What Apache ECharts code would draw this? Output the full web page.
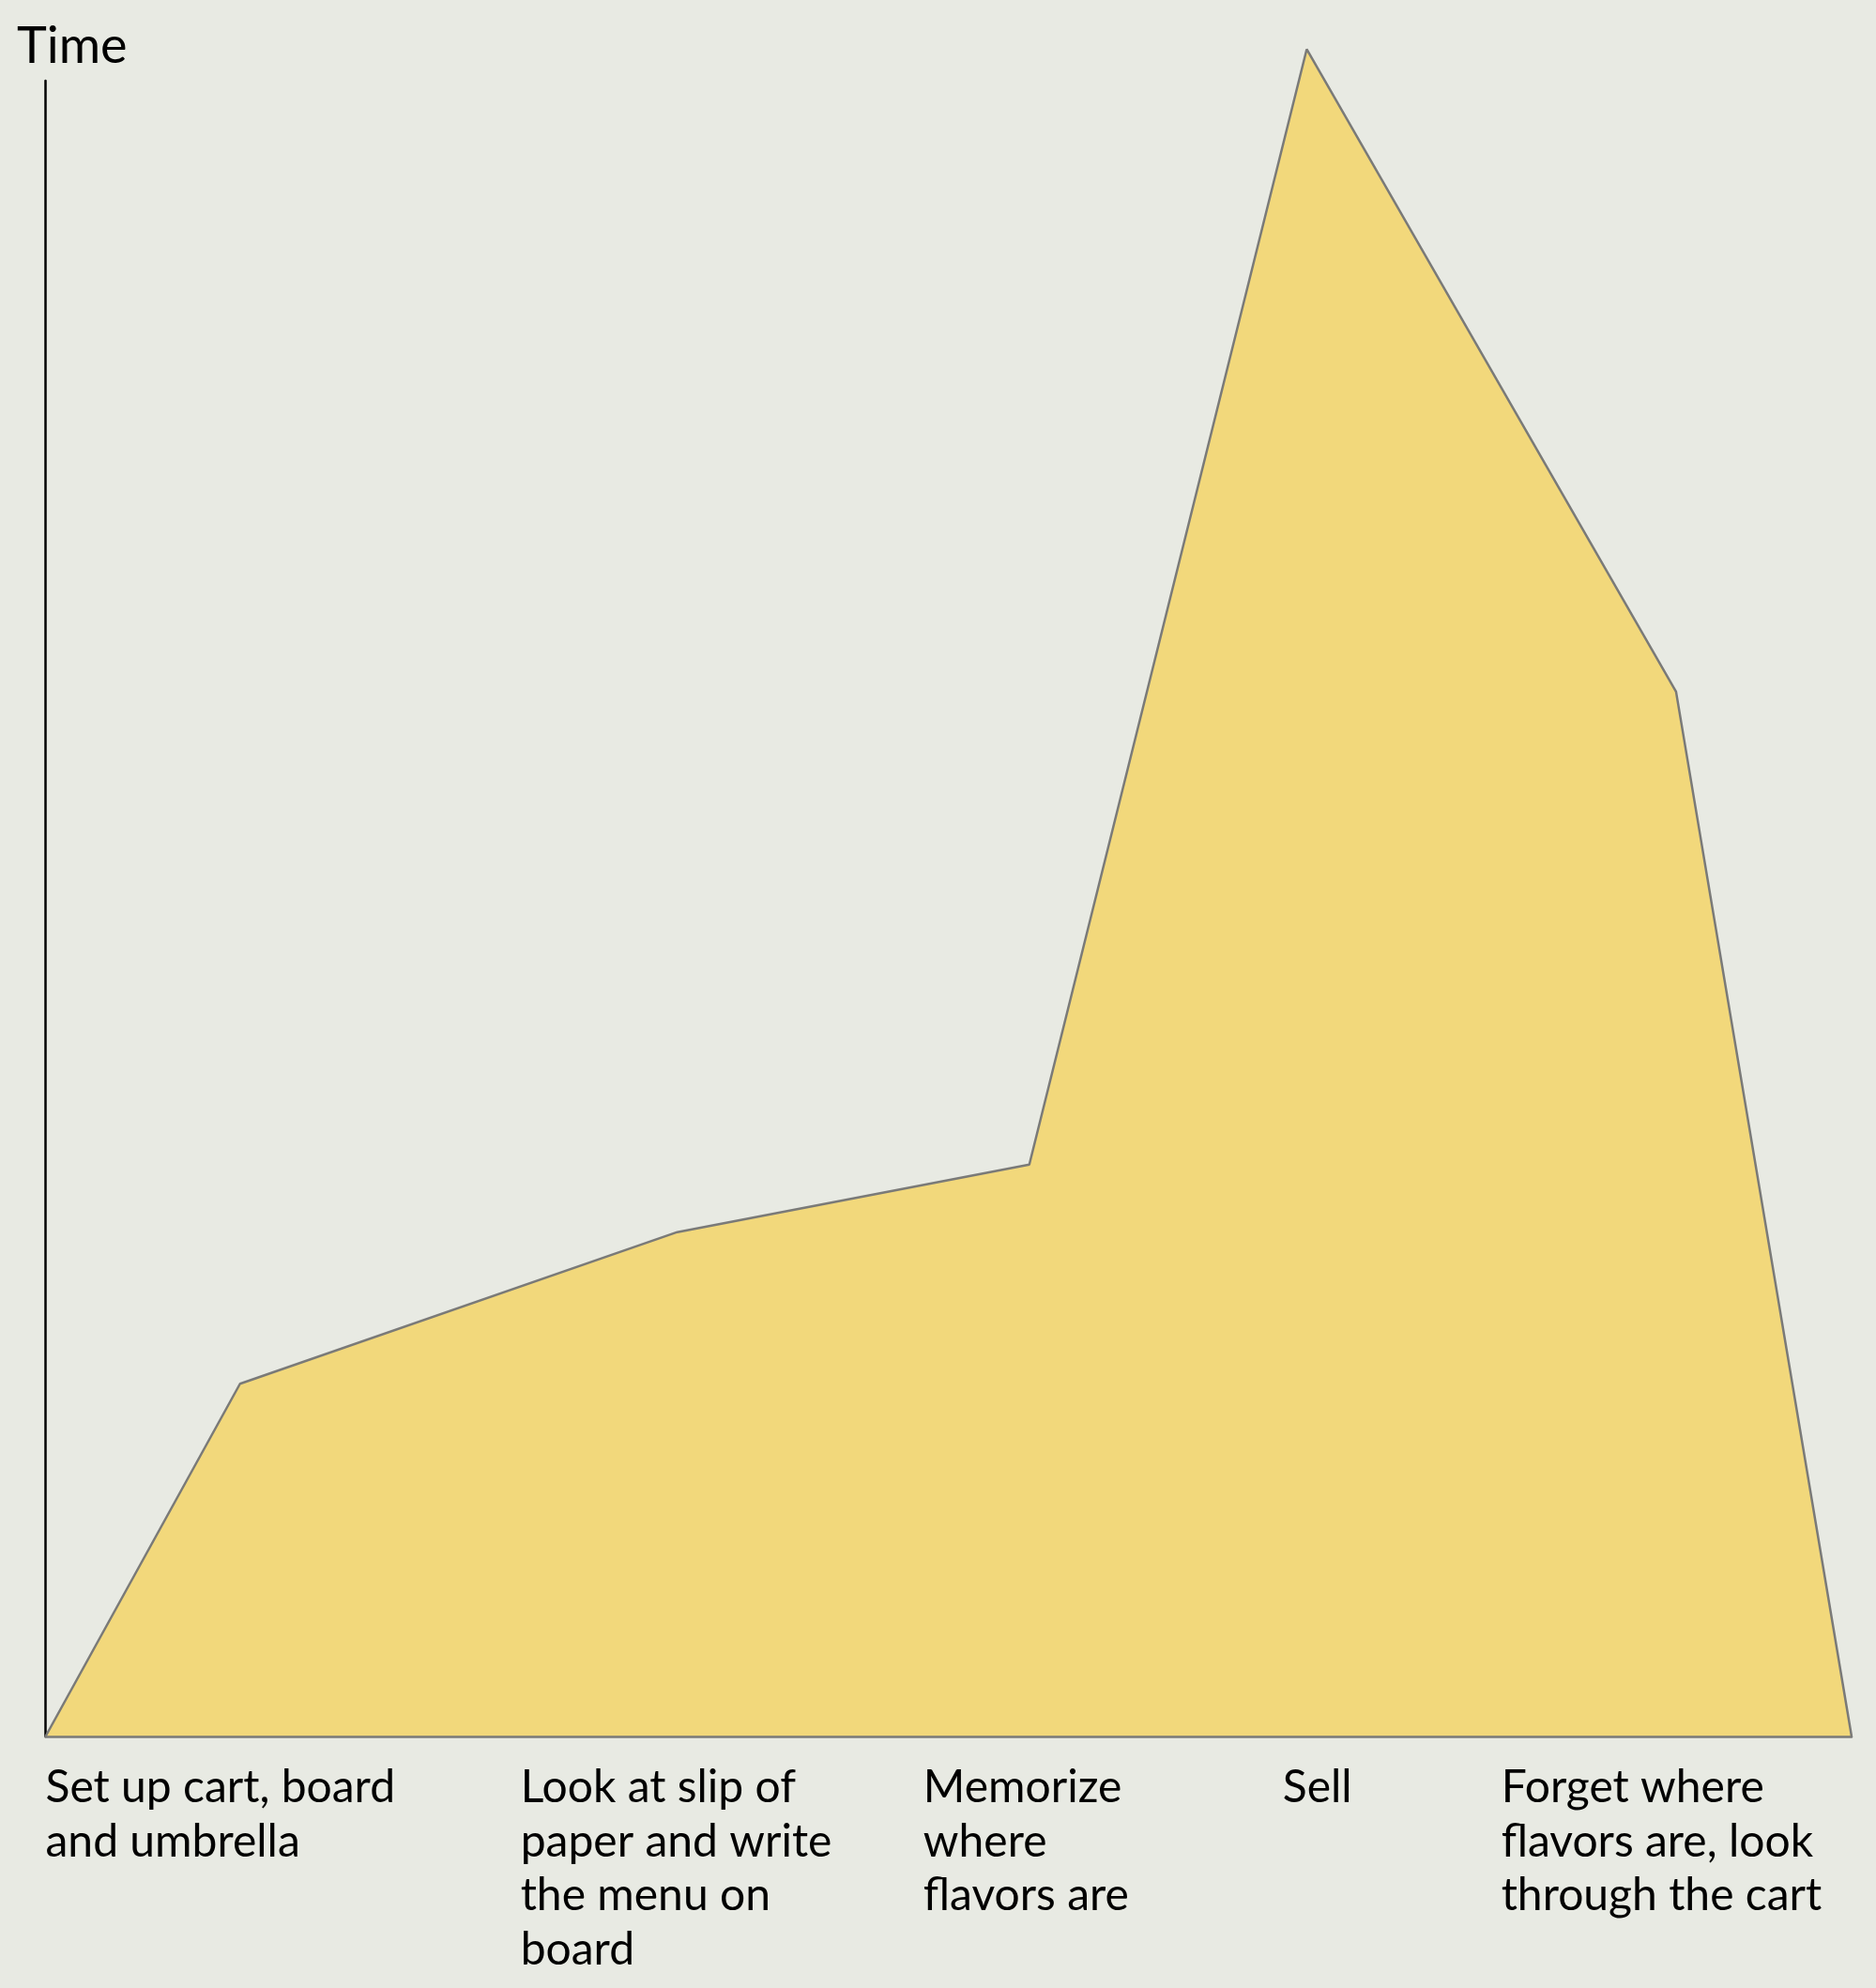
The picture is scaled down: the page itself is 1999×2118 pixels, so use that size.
<!DOCTYPE html>
<html>
<head>
<meta charset="utf-8">
<script src="https://cdn.jsdelivr.net/npm/echarts@6/dist/echarts.min.js"></script>
<style>
  html, body { margin: 0; padding: 0; background: #e8eae3; }
  #chart { width: 1999px; height: 2118px; }
</style>
</head>
<body>
<div id="chart"></div>
<script>
// Steps of running the ice-cream cart and the time each one takes
const stepX = [0, 10.77, 34.98, 54.47, 69.83, 90.28, 100];
const timeValues = [0, 21.3, 30.46, 34.54, 101.9, 63.1, 0];
const stepLabels = [
  'Set up cart, board\nand umbrella',
  'Look at slip of\npaper and write\nthe menu on\nboard',
  'Memorize\nwhere\nflavors are',
  'Sell',
  'Forget where\nflavors are, look\nthrough the cart'
];
const labelTicks = [0, 26.3, 48.6, 68.5, 80.6];

const chart = echarts.init(document.getElementById('chart'), null, { renderer: 'canvas' });

chart.setOption({
  backgroundColor: '#e8eae3',
  animation: false,
  textStyle: { fontFamily: 'Lato' },
  title: {
    text: 'Time',
    left: 13,
    top: 18,
    textStyle: { fontFamily: 'Lato', fontSize: 54, fontWeight: 'normal', color: '#000', lineHeight: 54 }
  },
  grid: { left: 48.5, right: 26, top: 86, bottom: 268 },
  xAxis: {
    type: 'value',
    min: 0,
    max: 100,
    z: 3,
    axisLine: { show: true, lineStyle: { color: '#7a7a78', width: 2.5 } },
    axisTick: { show: false },
    splitLine: { show: false },
    axisLabel: {
      customValues: labelTicks,
      formatter: (v) => {
        const i = labelTicks.indexOf(v);
        return i >= 0 ? stepLabels[i] : '';
      },
      align: 'left',
      verticalAlign: 'top',
      fontFamily: 'Lato',
      fontSize: 48,
      lineHeight: 57.5,
      color: '#000',
      margin: 26,
      hideOverlap: false
    }
  },
  yAxis: {
    type: 'value',
    min: 0,
    max: 100,
    z: 3,
    axisLine: { show: true, lineStyle: { color: '#000', width: 2.5 } },
    axisTick: { show: false },
    axisLabel: { show: false },
    splitLine: { show: false }
  },
  series: [{
    type: 'line',
    data: stepX.map((x, i) => [x, timeValues[i]]),
    showSymbol: false,
    clip: false,
    lineStyle: { color: '#7a7a78', width: 2.5 },
    areaStyle: { color: '#f2d87b', opacity: 1 }
  }]
});
</script>
</body>
</html>
